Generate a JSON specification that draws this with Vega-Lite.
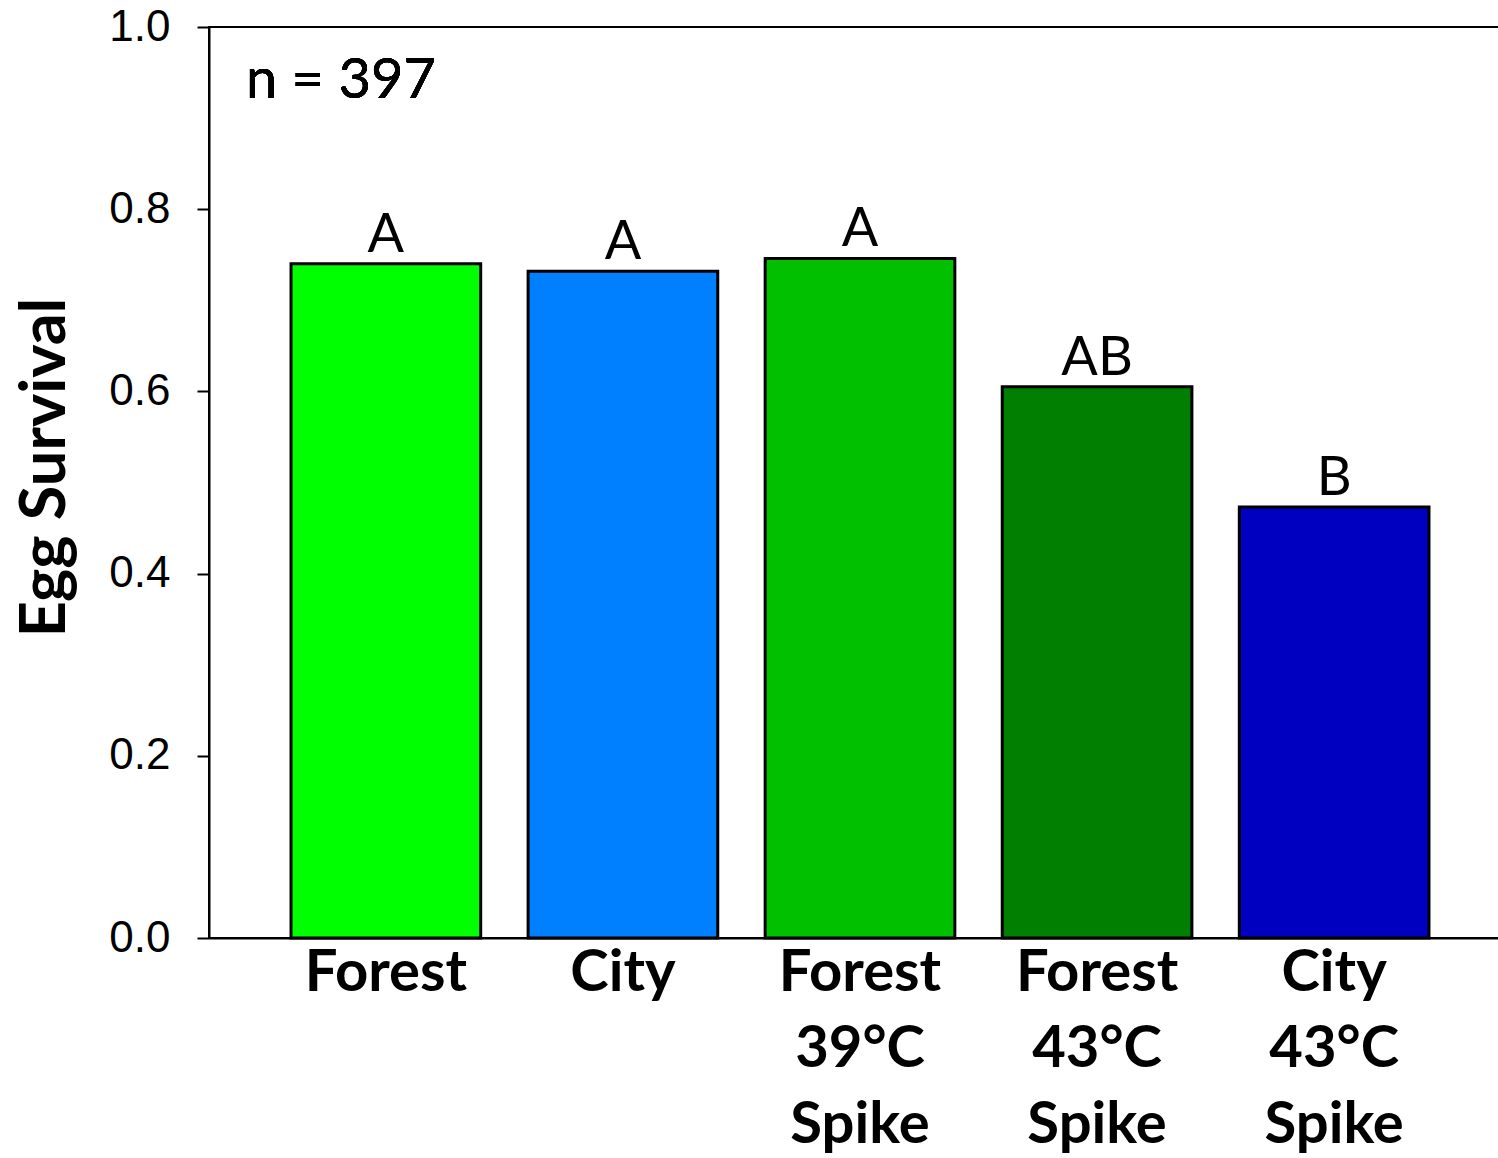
{
  "$schema": "https://vega.github.io/schema/vega-lite/v6.json",
  "autosize": "none",
  "padding": {"left": 209, "top": 27, "right": 0, "bottom": 220},
  "width": 1302,
  "height": 911,
  "background": "white",
  "config": {
    "view": {"stroke": "black", "strokeWidth": 2},
    "axis": {"grid": false, "domainColor": "black", "domainWidth": 2, "tickColor": "black", "tickWidth": 2, "labelColor": "black", "titleColor": "black"}
  },
  "data": {
    "values": [
      {"group": "Forest", "survival": 0.740, "letter": "A", "color": "Forest"},
      {"group": "City", "survival": 0.732, "letter": "A", "color": "City"},
      {"group": "Forest|39°C|Spike", "survival": 0.746, "letter": "A", "color": "F39"},
      {"group": "Forest|43°C|Spike", "survival": 0.605, "letter": "AB", "color": "F43"},
      {"group": "City|43°C|Spike", "survival": 0.473, "letter": "B", "color": "C43"}
    ]
  },
  "encoding": {
    "x": {
      "field": "group", "type": "nominal", "sort": null,
      "scale": {"paddingInner": 0.2, "paddingOuter": 0.346},
      "axis": {
        "title": null, "ticks": false, "labelAngle": 0,
        "labelExpr": "split(datum.label, '|')",
        "labelFont": "Lato", "labelFontWeight": "bold", "labelFontSize": 58,
        "labelLineHeight": 76, "labelPadding": 6, "domainWidth": 2
      }
    }
  },
  "layer": [
    {
      "mark": {"type": "bar", "stroke": "black", "strokeWidth": 3},
      "encoding": {
        "y": {
          "field": "survival", "type": "quantitative",
          "scale": {"domain": [0, 1], "nice": false},
          "axis": {
            "title": "Egg Survival", "values": [0, 0.2, 0.4, 0.6, 0.8, 1.0], "format": ".1f",
            "tickSize": 12, "labelPadding": 27,
            "labelFont": "Liberation Sans", "labelFontSize": 44,
            "titleFont": "Lato", "titleFontWeight": "bold", "titleFontSize": 63, "titlePadding": 31, "titleY": 440
          }
        },
        "color": {
          "field": "color", "type": "nominal", "legend": null,
          "scale": {"domain": ["Forest", "City", "F39", "F43", "C43"], "range": ["#00FF00", "#007FFF", "#00C000", "#007F00", "#0000C0"]}
        }
      }
    },
    {
      "mark": {"type": "text", "font": "Lato", "fontSize": 54, "baseline": "alphabetic", "dy": -12, "color": "black"},
      "encoding": {
        "y": {"field": "survival", "type": "quantitative"},
        "text": {"field": "letter"}
      }
    },
    {
      "mark": {"type": "text", "font": "Lato", "fontSize": 56, "align": "left", "baseline": "alphabetic", "dx": -45, "color": "black"},
      "encoding": {
        "x": {"datum": "Forest", "bandPosition": 0},
        "y": {"datum": 0.922},
        "text": {"value": "n = 397"}
      }
    }
  ]
}
